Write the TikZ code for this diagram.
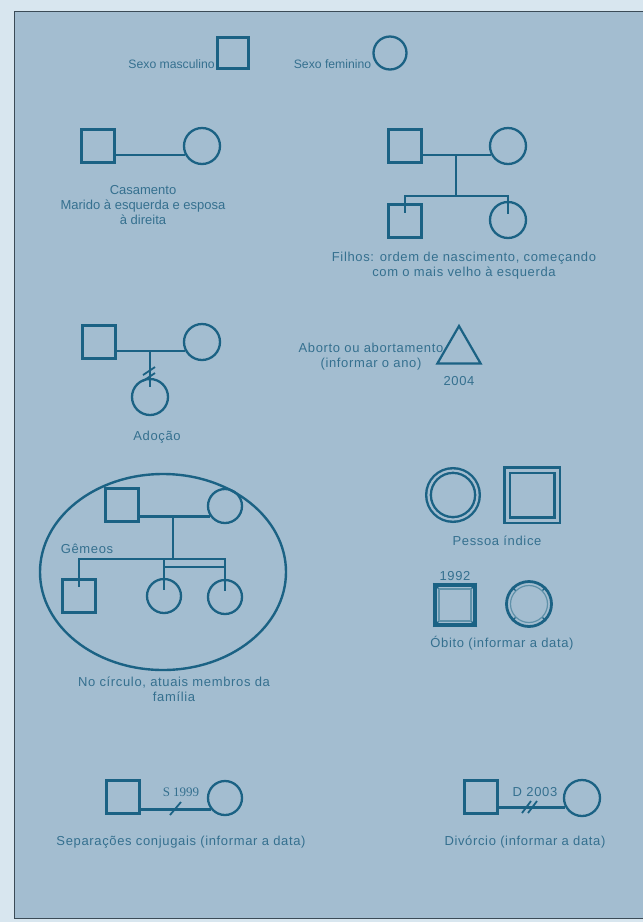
\documentclass[tikz,border=0pt]{standalone}
\usepackage{fontspec}
\setmainfont{Liberation Sans}
\newfontfamily\widefont[LetterSpace=5]{Liberation Sans}
\newfontfamily\timesfont{Liberation Serif}
\usetikzlibrary{shapes.geometric, positioning, calc}
\definecolor{outerbg}{HTML}{D8E6EF}
\definecolor{panelbg}{HTML}{A3BDD0}
\definecolor{framec}{HTML}{3B4B57}
\definecolor{symb}{HTML}{1B6284}
\definecolor{txt}{HTML}{35708F}

\begin{document}
\begin{tikzpicture}[x=1pt, y=-1pt,
    male/.style={rectangle, draw=symb, line width=3.4pt, minimum size=33pt, inner sep=0pt},
    female/.style={circle, draw=symb, line width=2.3pt, minimum size=36pt, inner sep=0pt},
    legend/.style={text=txt, font=\widefont\fontsize{13}{15}\selectfont, align=center, inner sep=1pt},
    legendsm/.style={legend, font=\normalfont\fontsize{12.2}{15}\selectfont},
    bond/.style={draw=symb, line width=2.8pt},
    slash/.style={draw=symb, line width=1.8pt}
]

% Background
\fill[outerbg] (0,0) rectangle (643,922);
\fill[panelbg] (14,11) rectangle (643,919);
\draw[framec, line width=1.5pt] (643,11.5) -- (14.5,11.5) -- (14.5,918.5) -- (643,918.5);
\useasboundingbox (0,0) rectangle (643,922);

% Sexo
\node[male, minimum size=31pt] (sm) at (233,53) {};
\node[legendsm, left=0pt of sm, yshift=-11pt] (smt) {Sexo masculino};
\node[female, minimum size=33pt] (sf) at (390,53) {};
\node[legendsm, left=0pt of sf, yshift=-11pt] (sft) {Sexo feminino};

% Casamento
\node[male] (h1) at (98,146) {};
\node[female] (w1) at (202,146) {};
\draw[bond] (w1.208 -| h1.east) -- (w1.208);
\node[legendsm, font=\normalfont\fontsize{13}{15}\selectfont] (t1) at (143,205) {Casamento\\Marido à esquerda e esposa\\à direita};

% Filhos
\node[male] (h2) at (405,146) {};
\node[female] (w2) at (508,146) {};
\node[male] (c21) at (405,221) {};
\node[female] (c22) at (508,220) {};
\coordinate (m2) at (w2.208 -| 456,0);
\coordinate (s2) at (456,196);
\draw[bond] (w2.208 -| h2.east) -- (w2.208);
\draw[bond] (m2) -- (s2);
\draw[bond] ([yshift=-10pt]c21.north) -- (c21.north |- s2) -- (c22.north |- s2) -- ([yshift=-13pt]c22.north);
\node[legend] (t2) at (464,265.5) {Filhos: ordem de nascimento, começando\\com o mais velho à esquerda};

% Adocao
\node[male] (h3) at (99,342) {};
\node[female] (w3) at (202,342) {};
\node[female] (c3) at (150,397) {};
\coordinate (m3) at (w3.208 -| 150,0);
\draw[bond] (w3.208 -| h3.east) -- (w3.208);
\draw[bond] (m3) -- ([yshift=-9pt]c3.north);
\draw[slash] (143,375) -- (155,367);
\draw[slash] (143,381) -- (155,373);
\node[legend] (t3) at (157,437) {Adoção};

% Aborto
\node[regular polygon, regular polygon sides=3, draw=symb, line width=2.2pt, minimum size=50pt, inner sep=0pt] (ab) at (459,351) {};
\node[legend] (t4) at (371,357) {Aborto ou abortamento\\(informar o ano)};
\node[legend, below=11pt of ab] (y4) {2004};

% Pessoa indice
\node[circle, draw=symb, double=panelbg, double distance=2.2pt, line width=2.4pt, minimum size=49pt] (pc) at (453,495) {};
\node[rectangle, draw=symb, double=panelbg, double distance=3pt, line width=2.8pt, minimum size=50pt] (ps) at (532,495) {};
\node[legend] (t5) at (497,541) {Pessoa índice};

% Obito
\node[rectangle, draw=symb, line width=3.4pt, minimum size=40pt] (os) at (455,605) {};
\node[rectangle, draw=symb!70, line width=1.2pt, minimum size=32pt] (osi) at (455,605) {};
\foreach \c in {north east, north west, south east, south west}
  \draw[symb, line width=1.2pt] (os.\c) -- (osi.\c);
\node[legend, above=1pt of os] (y6) {1992};
\node[circle, draw=symb, line width=2.8pt, minimum size=45pt] (oc) at (529,604) {};
\node[circle, draw=symb!70, line width=1.2pt, minimum size=37pt] (oci) at (529,604) {};
\foreach \a in {45, 135, 225, 315}
  \draw[symb, line width=1.2pt] (oc.\a) -- (oci.\a);
\node[legend] (t6) at (502,643) {Óbito (informar a data)};

% Familia
\draw[symb, line width=2.4pt] (163,572) ellipse [x radius=123pt, y radius=98pt];
\node[male] (h4) at (122,505) {};
\node[female, minimum size=34pt] (w4) at (225,506) {};
\node[male] (c41) at (79,596) {};
\node[female, minimum size=34pt] (c42) at (164,596) {};
\node[female, minimum size=34pt] (c43) at (225,597) {};
\coordinate (m4) at (w4.215 -| 173,0);
\coordinate (s4) at (173,559);
\coordinate (g4) at (173,567);
\draw[bond] (w4.215 -| h4.east) -- (w4.215);
\draw[bond] (m4) -- (s4);
\draw[bond] ([yshift=-9pt]c41.north) -- (c41.north |- s4) -- (c43.north |- s4) -- ([yshift=-12pt]c43.north);
\draw[bond] (c42.north |- s4) -- ([yshift=-12pt]c42.north);
\draw[bond] (c42.north |- g4) -- (c43.north |- g4);
\node[legend] (gt) at (87,549) {Gêmeos};
\node[legend] (t7) at (174,689) {No círculo, atuais membros da\\família};

% Separacao
\node[male] (h5) at (123,797) {};
\node[female, minimum size=34pt] (w5) at (225,798) {};
\draw[bond] (w5.220 -| h5.east) -- (w5.220);
\draw[slash] (170,815) -- (181,802);
\node[legend, font=\timesfont\fontsize{13}{13}\selectfont] (y8) at (181,792) {S 1999};
\node[legend] (t8) at (181,842) {Separações conjugais (informar a data)};

% Divorcio
\node[male] (h6) at (481,797) {};
\node[female] (w6) at (582,798) {};
\draw[bond] (w6.210 -| h6.east) -- (w6.210);
\draw[slash] (522,813) -- (531,801);
\draw[slash] (528,813) -- (537,801);
\node[legend] (y9) at (535,792) {D 2003};
\node[legend] (t9) at (525,842) {Divórcio (informar a data)};

\end{tikzpicture}
\end{document}
